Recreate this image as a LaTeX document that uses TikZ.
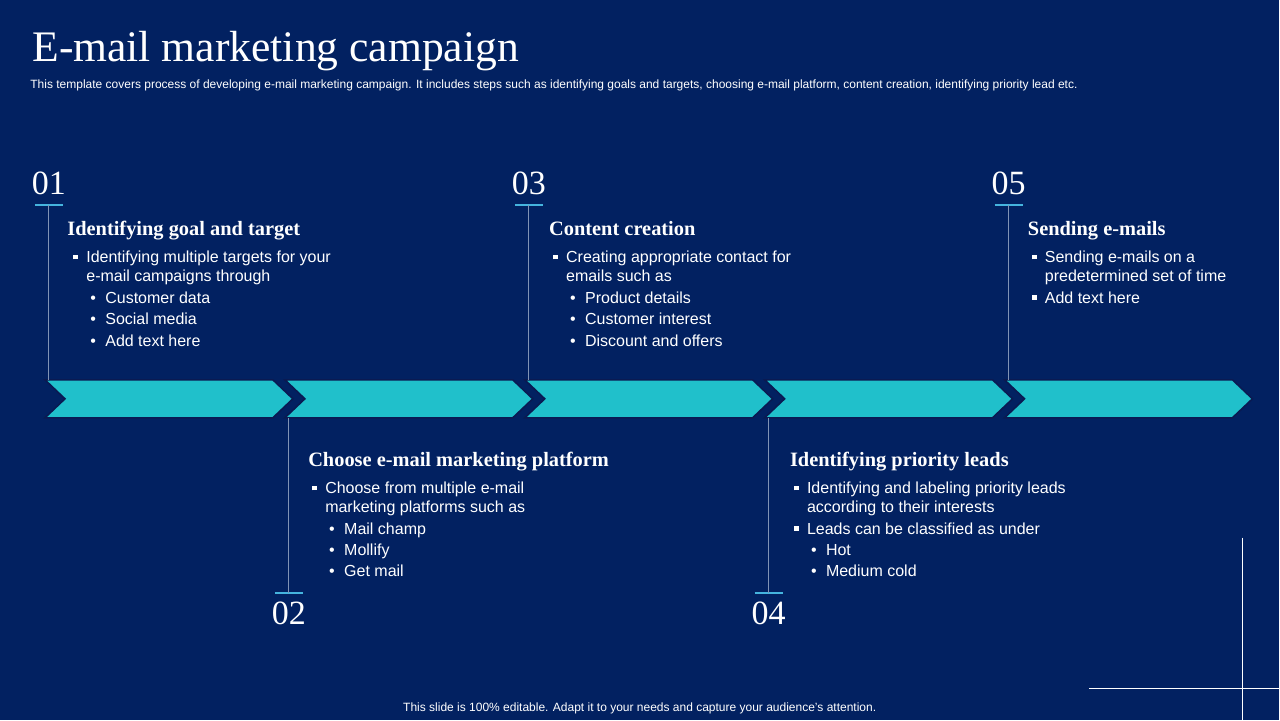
\documentclass[tikz,border=0pt]{standalone}
\usepackage{fontspec}
\setmainfont{Liberation Sans}
\newfontfamily\headfont{Liberation Serif}
\definecolor{slidebg}{HTML}{022161}
\definecolor{chevcyan}{HTML}{20C0CB}
\definecolor{gapnavy}{HTML}{0A1A52}
\definecolor{stemgray}{HTML}{8093B5}
\definecolor{ulinecyan}{HTML}{45B4DE}
\newcommand{\sqb}{\makebox[6.5pt][l]{\rule[1.7pt]{2.3pt}{2.3pt}}}
\newcommand{\dtb}{\hspace*{8.5pt}\makebox[7.5pt][l]{\textbullet}}
\newcommand{\ind}{\hspace*{6.5pt}}
\tikzset{
  num/.style={font=\headfont\fontsize{17}{17}\selectfont,text=white,inner sep=0,anchor=base},
  head/.style={font=\headfont\bfseries\fontsize{10.2}{11}\selectfont,text=white,inner sep=0,anchor=base west},
  body/.style={font=\fontsize{8}{9.5}\selectfont,text=white,inner sep=0,anchor=north west,align=left},
  chev/.style={fill=chevcyan,draw=gapnavy,line width=0.8pt},
  stem/.style={draw=stemgray,line width=0.5pt},
  uline/.style={draw=ulinecyan,line width=1pt},
  corner/.style={draw=white,line width=0.6pt}
}
\begin{document}
\begin{tikzpicture}[x=0.5pt,y=-0.5pt]
\fill[slidebg] (0,0) rectangle (1280,720);
\node[anchor=base west,inner sep=0,text=white,font=\headfont\fontsize{21.8}{22}\selectfont] (title) at (32,62) {E-mail marketing campaign};
\node[anchor=base west,inner sep=0,text=white,font=\fontsize{6}{7}\selectfont] (sub) at (30,89) {This template covers process of developing e-mail marketing campaign. It includes steps such as identifying goals and targets, choosing e-mail platform, content creation, identifying priority lead etc.};
\foreach \i in {0,...,4} \path[chev] ({45+240*\i},380) -- ++(228,0) -- ++(20,19) -- ++(-20,19) -- ++(-228,0) -- ++(20,-19) -- cycle;
\foreach \i/\ny/\uy/\cy in {1/195/205/380,2/625/593/418,3/195/205/380,4/625/593/418,5/195/205/380}{
  \pgfmathsetmacro\cx{49+240*(\i-1)}
  \node[num] (n\i) at (\cx,\ny) {0\i};
  \coordinate (u\i) at (\cx,\uy); \coordinate (c\i) at (\cx,\cy);
  \draw[uline] (\cx-14,\uy) -- (\cx+14,\uy);
  \draw[stem] (u\i) -- (c\i);
}
\node[head] (h1) at (67,236) {Identifying goal and target};
\node[body] (b1) at (73,251) {\sqb Identifying multiple targets for your\\ \ind e-mail campaigns through\\[1.2pt] \dtb Customer data\\[1.2pt] \dtb Social media\\[1.2pt] \dtb Add text here};
\node[head] (h2) at (308,467) {Choose e-mail marketing platform};
\node[body] (b2) at (312,482) {\sqb Choose from multiple e-mail\\ \ind marketing platforms such as\\[1.2pt] \dtb Mail champ\\[1.2pt] \dtb Mollify\\[1.2pt] \dtb Get mail};
\node[head] (h3) at (549,236) {Content creation};
\node[body] (b3) at (553,251) {\sqb Creating appropriate contact for\\ \ind emails such as\\[1.2pt] \dtb Product details\\[1.2pt] \dtb Customer interest\\[1.2pt] \dtb Discount and offers};
\node[head] (h4) at (790,467) {Identifying priority leads};
\node[body] (b4) at (794,482) {\sqb Identifying and labeling priority leads\\ \ind according to their interests\\[1.2pt] \sqb Leads can be classified as under\\[1.2pt] \dtb Hot\\[1.2pt] \dtb Medium cold};
\node[head] (h5) at (1028,236) {Sending e-mails};
\node[body] (b5) at (1032,251) {\sqb Sending e-mails on a\\ \ind predetermined set of time\\[1.2pt] \sqb Add text here};
\node[anchor=base,inner sep=0,text=white,font=\fontsize{6}{7}\selectfont] (foot) at (640,712) {This slide is 100\% editable. Adapt it to your needs and capture your audience's attention.};
\draw[corner] (1243,538) -- (1243,720); \draw[corner] (1090,689) -- (1280,689);
\end{tikzpicture}
\end{document}
